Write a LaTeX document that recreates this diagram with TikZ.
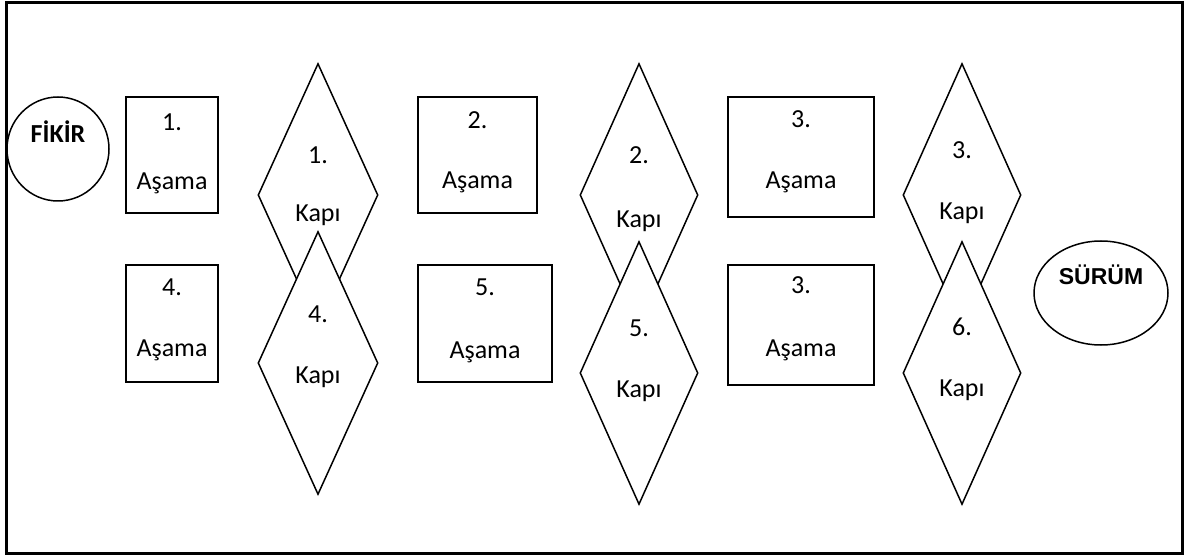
\documentclass[tikz,border=0pt]{standalone}
\usepackage{fontspec}
\setmainfont{Carlito}
\newfontfamily\arialfont{Liberation Sans}
\usetikzlibrary{shapes.geometric}
\tikzset{
  stagebox/.style={draw, line width=1.5pt, inner sep=0pt, fill=white},
  gate/.style={diamond, draw, line width=1.5pt, inner sep=0pt, fill=white, minimum width=120pt, minimum height=263pt},
  txt/.style={inner sep=0pt, font=\fontsize{26}{30}\selectfont},
  endpt/.style={ellipse, draw, line width=1.5pt, inner sep=0pt}
}
\begin{document}
\begin{tikzpicture}[x=1pt,y=-1pt]
\useasboundingbox (0,0) rectangle (1187,556);
\draw[line width=3pt] (6,3) rectangle (1182,553);
% start / end
\node[endpt, minimum width=102pt, minimum height=104pt] (fikir) at (58,149) {};
\node[inner sep=0pt, font=\fontsize{26}{30}\selectfont\bfseries] (fikirt) at (58,132) {FİKİR};
\node[endpt, minimum width=134pt, minimum height=104pt] (surum) at (1101,293) {};
\node[inner sep=0pt, font=\arialfont\fontsize{23}{27}\selectfont\bfseries] (surumt) at (1101,275) {SÜRÜM};
% stages
\node[stagebox, minimum width=92pt, minimum height=116pt] (s1) at (172,155) {};
\node[txt] (s1a) at (172,122) {1.};
\node[txt] (s1b) at (172,183) {Aşama};
\node[stagebox, minimum width=92pt, minimum height=117pt] (s4) at (172,323.5) {};
\node[txt] (s4a) at (172,287) {4.};
\node[txt] (s4b) at (172,350) {Aşama};
\node[stagebox, minimum width=119pt, minimum height=116pt] (s2) at (477.5,155) {};
\node[txt] (s2a) at (477.5,120) {2.};
\node[txt] (s2b) at (477.5,182) {Aşama};
\node[stagebox, minimum width=134pt, minimum height=117pt] (s5) at (485,323.5) {};
\node[txt] (s5a) at (485,287) {5.};
\node[txt] (s5b) at (485,352) {Aşama};
\node[stagebox, minimum width=146pt, minimum height=120pt] (s3) at (801,157) {};
\node[txt] (s3a) at (801,119) {3.};
\node[txt] (s3b) at (801,182) {Aşama};
\node[stagebox, minimum width=146pt, minimum height=120pt] (s6) at (801,325) {};
\node[txt] (s6a) at (801,285) {3.};
\node[txt] (s6b) at (801,350) {Aşama};
% gates (upper first, lower drawn on top)
\node[gate] (g1) at (318,195) {};
\node[txt] (g1a) at (318,155) {1.};
\node[txt] (g1b) at (318,215) {Kapı};
\node[gate] (g4) at (318,363) {};
\node[txt] (g4a) at (318,314) {4.};
\node[txt] (g4b) at (318,377) {Kapı};
\node[gate, minimum width=118pt] (g2) at (639,195) {};
\node[txt] (g2a) at (639,155) {2.};
\node[txt] (g2b) at (639,221) {Kapı};
\node[gate, minimum width=118pt] (g5) at (639,373) {};
\node[txt] (g5a) at (639,328) {5.};
\node[txt] (g5b) at (639,391) {Kapı};
\node[gate, minimum width=118pt] (g3) at (962,195) {};
\node[txt] (g3a) at (962,150) {3.};
\node[txt] (g3b) at (962,213) {Kapı};
\node[gate, minimum width=118pt] (g6) at (962,373) {};
\node[txt] (g6a) at (962,327) {6.};
\node[txt] (g6b) at (962,390) {Kapı};
\end{tikzpicture}
\end{document}
